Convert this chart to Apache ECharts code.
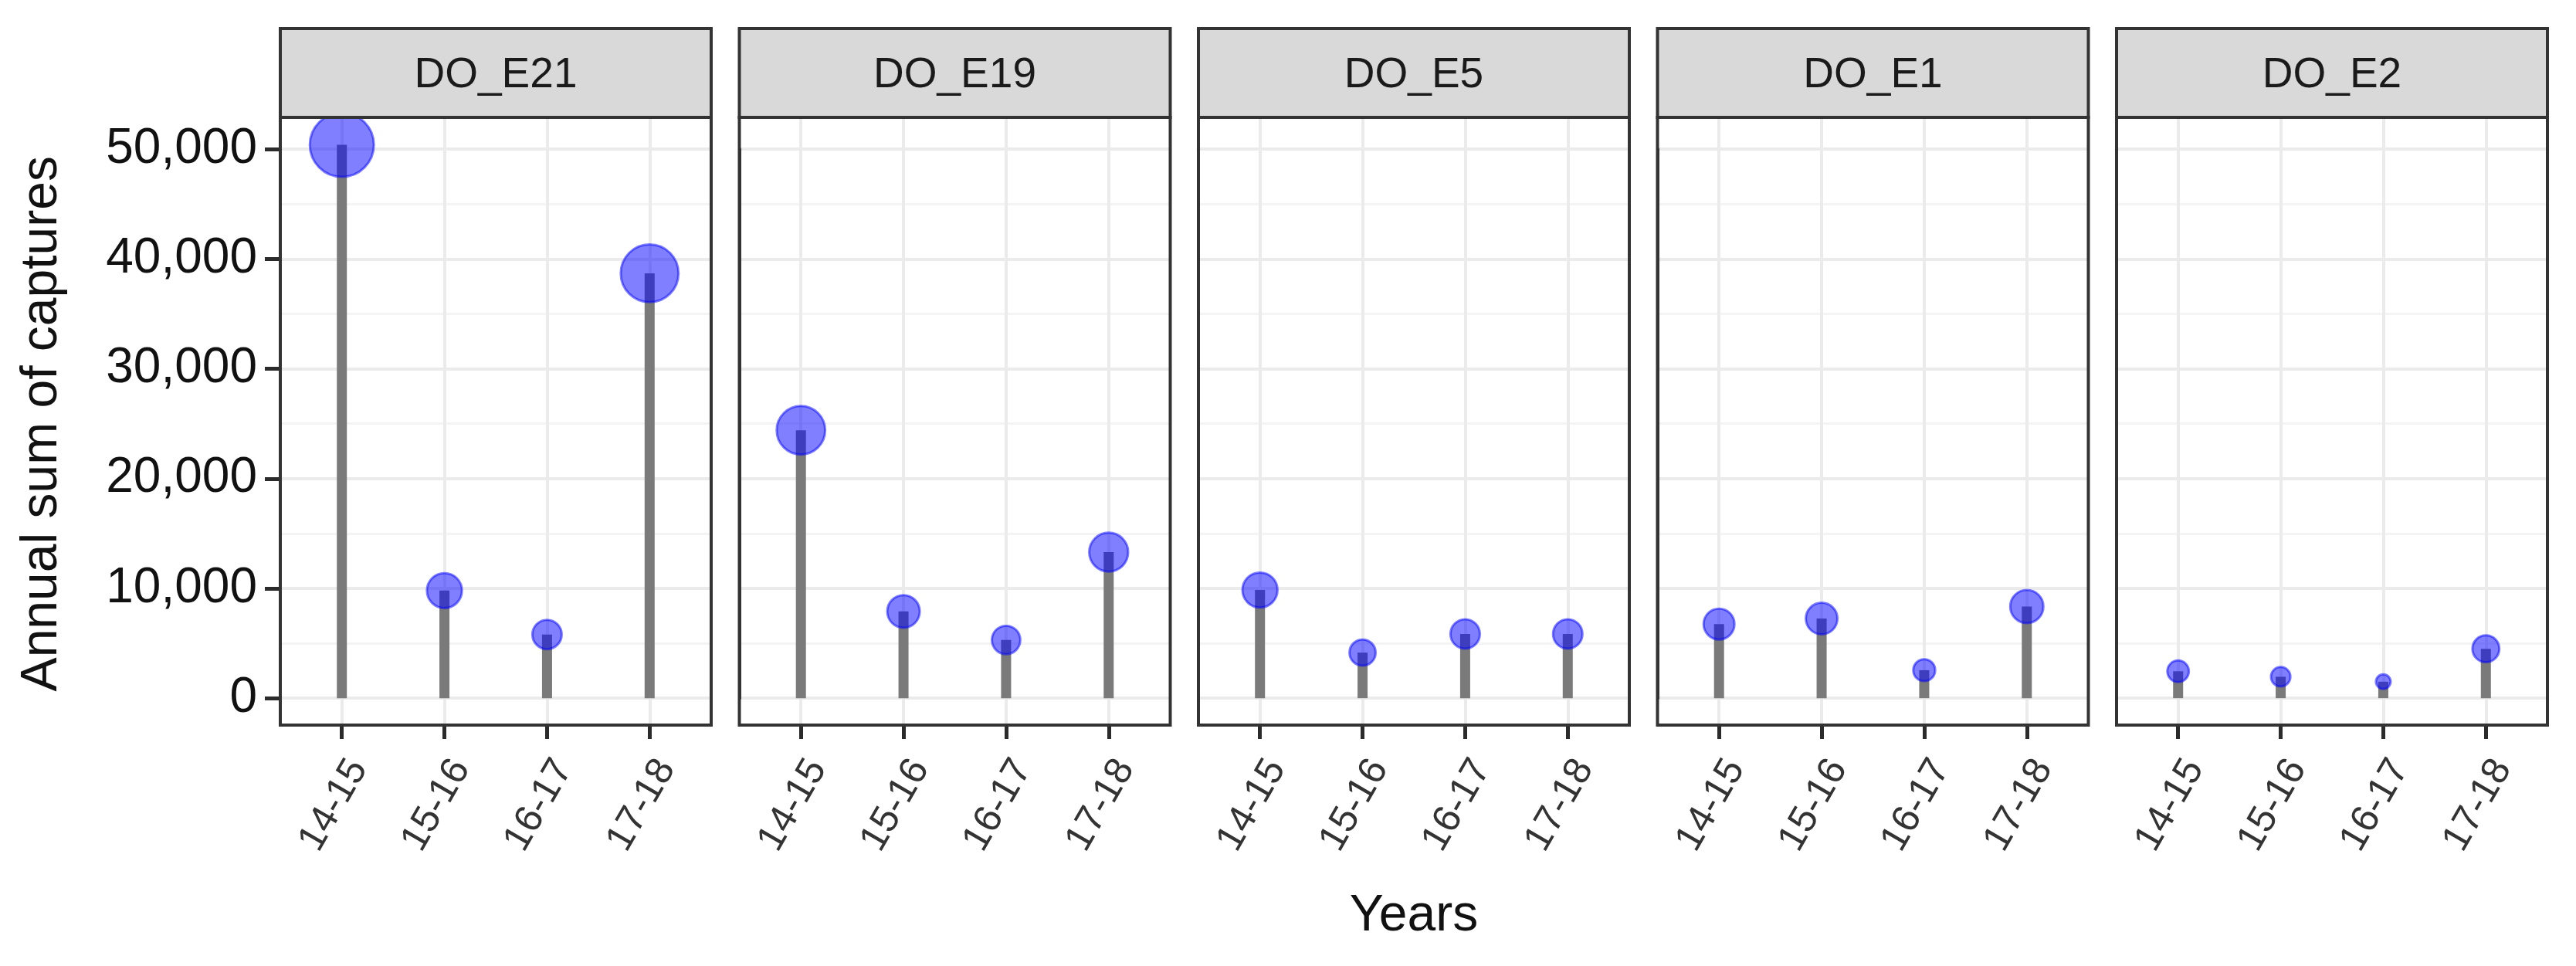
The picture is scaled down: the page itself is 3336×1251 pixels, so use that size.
<!DOCTYPE html>
<html><head><meta charset="utf-8">
<script src="https://cdn.jsdelivr.net/npm/echarts@6/dist/echarts.min.js"></script>
<style>html,body{margin:0;padding:0;background:#fff}#c{width:3336px;height:1251px}</style>
</head><body><div id="c"></div>
<script>
// ---- data ----
const sites = ['DO_E21', 'DO_E19', 'DO_E5', 'DO_E1', 'DO_E2'];
const years = ['14-15', '15-16', '16-17', '17-18'];
const capDO_E21 = [50400, 9800, 5800, 38700];
const capDO_E19 = [24400, 7900, 5300, 13300];
const capDO_E5  = [9850, 4150, 5850, 5850];
const capDO_E1  = [6750, 7250, 2550, 8350];
const capDO_E2  = [2450, 1950, 1500, 4500];
const yTickMin = 0, yTickMax = 50000, yTickStep = 10000;
const xPositions = [1, 2, 3, 4];

const seriesVals = [capDO_E21, capDO_E19, capDO_E5, capDO_E1, capDO_E2];

// ---- layout ----
const FONT = "'Liberation Sans', Arial, sans-serif";
const panelLeft0 = 363, pitch = 594.5, panelW = 558;
const panelTop = 152, panelH = 787;
const stripTop = 37, stripH = panelTop - stripTop;
const yMin = -2450, yMax = 52900;
const xPad = 0.6;
const unit = panelW / (xPositions.length - 1 + 2 * xPad);
const pxPerVal = panelH / (yMax - yMin);
const tickGridTop = panelTop + (yMax - yTickMax) * pxPerVal;
const tickGridH = (yTickMax - yTickMin) * pxPerVal;

const allVals = [].concat(...seriesVals);
const vMin = Math.min(...allVals), vMax = Math.max(...allVals);
const sizeOf = v => 22 + 64 * Math.sqrt((v - vMin) / (vMax - vMin)) - 3;

const grids = [], xAxes = [], yAxes = [], series = [], graphics = [];
sites.forEach((site, i) => {
  const left = panelLeft0 + i * pitch;
  grids.push({left: left, top: tickGridTop, width: panelW, height: tickGridH, show: true,
    backgroundColor: 'rgba(0,0,0,0)', borderWidth: 0});
  grids.push({left: left + xPad * unit, top: panelTop, width: unit * (xPositions.length - 1), height: panelH, show: true,
    backgroundColor: 'rgba(0,0,0,0)', borderWidth: 0});

  xAxes.push({gridIndex: 2 * i, type: 'value', min: 0, max: 1, show: false});
  xAxes.push({
    gridIndex: 2 * i + 1, type: 'value', min: xPositions[0], max: xPositions[xPositions.length - 1], interval: 1,
    axisLine: {show: true, onZero: false, lineStyle: {color: '#333', width: 4}},
    axisTick: {show: true, length: 18, lineStyle: {color: '#2b2b2b', width: 5}},
    axisLabel: {show: true, formatter: v => years[Math.round(v) - 1],
      rotate: 60, align: 'right', verticalAlign: 'top', margin: 36,
      fontSize: 50, color: '#333', fontFamily: FONT},
    splitLine: {show: true, lineStyle: {color: '#ebebeb', width: 4}},
    name: i === 2 ? 'Years' : '', nameLocation: 'middle', nameGap: 215, nameMoveOverlap: false,
    nameTextStyle: {fontSize: 66, color: '#111', fontFamily: FONT}
  });

  yAxes.push({
    gridIndex: 2 * i, type: 'value', min: yTickMin, max: yTickMax, interval: yTickStep,
    axisLine: {show: true, onZero: false, lineStyle: {color: '#333', width: 4}},
    axisTick: {show: i === 0, length: 20, lineStyle: {color: '#2b2b2b', width: 5}},
    axisLabel: {show: i === 0, margin: 30,
      formatter: v => v.toLocaleString('en-US'),
      fontSize: 64, color: '#111', fontFamily: FONT},
    splitLine: {show: true, lineStyle: {color: '#ebebeb', width: 4}},
    minorTick: {show: false, splitNumber: 2},
    minorSplitLine: {show: true, lineStyle: {color: '#f4f4f4', width: 3}},
    name: i === 0 ? 'Annual sum of captures' : '', nameLocation: 'middle', nameRotate: 90, nameGap: 275,
    nameMoveOverlap: false,
    nameTextStyle: {fontSize: 66, color: '#111', fontFamily: FONT}
  });
  yAxes.push({gridIndex: 2 * i + 1, type: 'value', min: yMin, max: yMax, show: false});

  const data = seriesVals[i].map((v, j) => [xPositions[j], v]);
  series.push({type: 'bar', xAxisIndex: 2 * i + 1, yAxisIndex: 2 * i + 1, data: data, barWidth: 13,
    itemStyle: {color: '#7a7a7a'}, silent: true, animation: false, clip: false, z: 3});
  series.push({type: 'scatter', xAxisIndex: 2 * i + 1, yAxisIndex: 2 * i + 1, data: data,
    symbolSize: d => sizeOf(d[1]),
    itemStyle: {color: 'rgba(0,0,255,0.5)', borderColor: 'rgba(0,0,255,0.5)', borderWidth: 3, opacity: 1},
    silent: true, animation: false, clip: false, z: 4});
  graphics.push({type: 'rect', z: 20, silent: true,
    shape: {x: left, y: panelTop, width: panelW, height: panelH},
    style: {fill: 'none', stroke: '#333', lineWidth: 4}});
  graphics.push({type: 'rect', z: 20, silent: true,
    shape: {x: left, y: stripTop, width: panelW, height: stripH},
    style: {fill: '#d9d9d9', stroke: '#333', lineWidth: 4}});
  graphics.push({type: 'text', z: 21, silent: true, x: left + panelW / 2, y: stripTop + stripH / 2 + 3,
    style: {text: site, fontSize: 55, fontFamily: FONT, fill: '#1a1a1a',
      align: 'center', verticalAlign: 'middle', textAlign: 'center', textVerticalAlign: 'middle'}});
});

const chart = echarts.init(document.getElementById('c'), null, {renderer: 'canvas'});
chart.setOption({
  animation: false,
  backgroundColor: '#fff',
  grid: grids, xAxis: xAxes, yAxis: yAxes, series: series,
  graphic: {elements: graphics}
});
</script></body></html>
